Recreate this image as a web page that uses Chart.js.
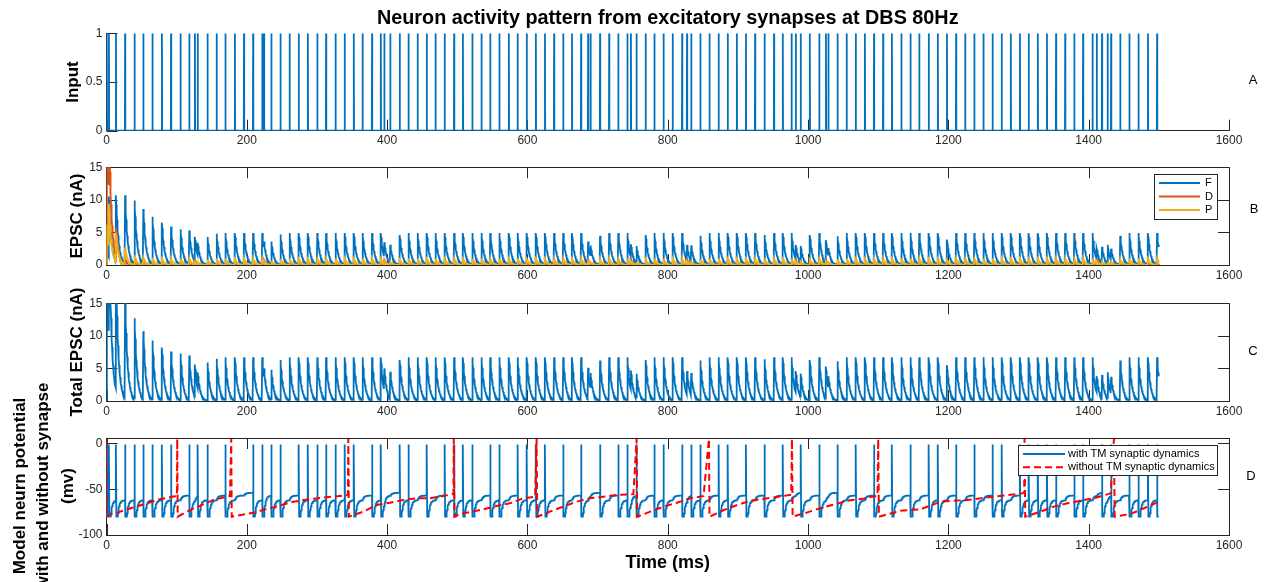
<!DOCTYPE html>
<html>
<head>
<meta charset="utf-8">
<title>Neuron activity pattern at DBS 80Hz</title>
<script src="https://cdn.jsdelivr.net/npm/chart.js@4.4.1/dist/chart.umd.min.js"></script>
<style>
  html, body { margin: 0; padding: 0; background: #fff; }
  #wrap { position: relative; width: 1268px; height: 582px; overflow: hidden; }
  canvas { position: absolute; left: 0; }
</style>
</head>
<body>
<div id="wrap">
  <canvas id="panelA" width="1268" height="150" style="top:0px"></canvas>
  <canvas id="panelB" width="1268" height="135" style="top:150px"></canvas>
  <canvas id="panelC" width="1268" height="135" style="top:285px"></canvas>
  <canvas id="panelD" width="1268" height="202" style="top:380px"></canvas>
</div>
<script>
// stimulus pulse times (ms)
const inputTimes = [
  0.5, 3.5, 13.5, 26.5, 40, 52.5, 65.5, 79, 92, 105.5,
  118, 126, 130, 144, 157, 169.5, 183, 196, 209, 222,
  224.5, 235, 248, 261, 274, 287, 300.5, 313, 326.5, 339.5,
  352.5, 365, 378.5, 391, 396, 404.5, 418, 430.5, 443.5, 456.5,
  469, 482, 495.5, 508, 521.5, 534.5, 547, 560, 573.5, 586,
  599, 612, 625, 638, 651, 663.5, 676.5, 686.5, 690, 703.5,
  716.5, 729.5, 742.5, 747.5, 755.5, 768.5, 781, 794, 807, 820.5,
  827.5, 833.5, 846.5, 859.5, 872.5, 885.5, 898.5, 911.5, 924.5, 938,
  951.5, 964, 976.5, 982.5, 989.5, 1002.5, 1016, 1025.5, 1029, 1042,
  1055, 1068, 1081, 1094, 1107, 1119.5, 1133, 1146, 1158.5, 1172,
  1185, 1198, 1211, 1224, 1237, 1250, 1263, 1276, 1289, 1302,
  1314.5, 1327.5, 1340.5, 1353.5, 1366.5, 1379.5, 1392, 1405.5, 1411.5, 1419,
  1427, 1432, 1445, 1458, 1471, 1484.5, 1497.5
];

// EPSC peak per pulse (nA): facilitating, depressing, pseudo-linear synapses
const fPeaks = [
  2.5, 10.5, 10.7, 10.7, 9.9, 8.6, 7.4, 6.5, 5.9, 5.5,
  5.3, 4.3, 3.4, 4.3, 4.8, 4.9, 4.9, 4.9, 4.9, 4.9,
  3.6, 3.6, 4.7, 4.9, 4.9, 4.9, 4.9, 4.9, 4.9, 4.9,
  4.9, 4.9, 4.9, 4.9, 3.5, 3.1, 4.6, 4.9, 4.9, 4.9,
  4.9, 4.9, 4.9, 4.9, 4.9, 4.9, 4.9, 4.9, 4.9, 4.9,
  4.9, 4.9, 4.9, 4.9, 4.9, 4.9, 4.9, 3.6, 3.0, 4.5,
  4.9, 4.9, 4.9, 3.2, 2.9, 4.6, 4.9, 4.9, 4.9, 4.9,
  3.1, 3.0, 4.5, 4.9, 4.9, 4.9, 4.9, 4.9, 4.9, 4.6,
  4.9, 4.9, 4.9, 3.1, 2.9, 4.6, 4.9, 3.8, 2.6, 4.4,
  4.9, 4.9, 4.9, 4.9, 4.9, 4.9, 4.9, 4.9, 4.9, 4.9,
  4.9, 3.9, 4.9, 4.9, 4.9, 4.9, 4.9, 4.9, 4.9, 4.9,
  4.9, 4.9, 4.9, 4.9, 4.9, 4.9, 4.9, 4.9, 2.6, 2.8,
  3.1, 2.5, 4.5, 4.9, 4.9, 4.9, 4.9
];
const dPeaks = [
  25, 22, 5.7, 1.0, 0.6, 0.5, 0.4, 0.35, 0.3, 0.3,
  0.3, 0.8, 0.2, 0.25, 0.25, 0.25, 0.25, 0.25, 0.25, 0.25,
  0.8, 0.2, 0.25, 0.25, 0.25, 0.25, 0.25, 0.25, 0.25, 0.25,
  0.25, 0.25, 0.25, 0.25, 0.8, 0.2, 0.25, 0.25, 0.25, 0.25,
  0.25, 0.25, 0.25, 0.25, 0.25, 0.25, 0.25, 0.25, 0.25, 0.25,
  0.25, 0.25, 0.25, 0.25, 0.25, 0.25, 0.25, 0.8, 0.2, 0.25,
  0.25, 0.25, 0.25, 0.8, 0.2, 0.25, 0.25, 0.25, 0.25, 0.25,
  0.8, 0.2, 0.25, 0.25, 0.25, 0.25, 0.25, 0.25, 0.25, 0.25,
  0.25, 0.25, 0.25, 0.8, 0.2, 0.25, 0.25, 0.8, 0.2, 0.25,
  0.25, 0.25, 0.25, 0.25, 0.25, 0.25, 0.25, 0.25, 0.25, 0.25,
  0.25, 0.6, 0.25, 0.25, 0.25, 0.25, 0.25, 0.25, 0.25, 0.25,
  0.25, 0.25, 0.25, 0.25, 0.25, 0.25, 0.25, 0.25, 0.8, 0.2,
  0.5, 0.2, 0.25, 0.25, 0.25, 0.25, 0.25
];
const pPeaks = [
  6.2, 9.4, 5.0, 2.7, 1.5, 1.2, 1.1, 1.0, 1.0, 1.0,
  1.0, 0.6, 0.5, 0.9, 1.0, 1.0, 1.0, 1.0, 1.0, 1.0,
  0.6, 0.6, 0.9, 1.0, 1.0, 1.0, 1.0, 1.0, 1.0, 1.0,
  1.0, 1.0, 1.0, 1.0, 0.6, 0.5, 0.9, 1.0, 1.0, 1.0,
  1.0, 1.0, 1.0, 1.0, 1.0, 1.0, 1.0, 1.0, 1.0, 1.0,
  1.0, 1.0, 1.0, 1.0, 1.0, 1.0, 1.0, 0.6, 0.5, 0.9,
  1.0, 1.0, 1.0, 0.6, 0.5, 0.9, 1.0, 1.0, 1.0, 1.0,
  0.6, 0.5, 0.9, 1.0, 1.0, 1.0, 1.0, 1.0, 1.0, 1.0,
  1.0, 1.0, 1.0, 0.6, 0.5, 0.9, 1.0, 0.6, 0.5, 0.9,
  1.0, 1.0, 1.0, 1.0, 1.0, 1.0, 1.0, 1.0, 1.0, 1.0,
  1.0, 0.8, 1.0, 1.0, 1.0, 1.0, 1.0, 1.0, 1.0, 1.0,
  1.0, 1.0, 1.0, 1.0, 1.0, 1.0, 1.0, 1.0, 0.6, 0.5,
  0.5, 0.5, 0.9, 1.0, 1.0, 1.0, 1.0
];
const totalPeaks = [
  22, 30, 20, 16, 12.7, 10.7, 9.3, 8.2, 7.6, 7.3,
  7.0, 5.6, 4.4, 5.9, 6.5, 6.7, 6.7, 6.7, 6.7, 6.7,
  5.0, 4.8, 6.3, 6.7, 6.7, 6.7, 6.7, 6.7, 6.7, 6.7,
  6.7, 6.7, 6.7, 6.7, 5.0, 4.5, 6.3, 6.7, 6.7, 6.7,
  6.7, 6.7, 6.7, 6.7, 6.7, 6.7, 6.7, 6.7, 6.7, 6.7,
  6.7, 6.7, 6.7, 6.7, 6.7, 6.7, 6.7, 5.1, 4.3, 6.2,
  6.7, 6.7, 6.7, 4.7, 4.2, 6.3, 6.7, 6.7, 6.7, 6.7,
  4.6, 4.3, 6.2, 6.7, 6.7, 6.7, 6.7, 6.7, 6.7, 6.4,
  6.7, 6.7, 6.7, 4.6, 4.2, 6.3, 6.7, 5.3, 3.8, 6.1,
  6.7, 6.7, 6.7, 6.7, 6.7, 6.7, 6.7, 6.7, 6.7, 6.7,
  6.7, 5.5, 6.7, 6.7, 6.7, 6.7, 6.7, 6.7, 6.7, 6.7,
  6.7, 6.7, 6.7, 6.7, 6.7, 6.7, 6.7, 6.7, 3.8, 4.0,
  4.4, 3.7, 6.2, 6.7, 6.7, 6.7, 6.7
];

// 1 where the pulse triggers an action potential in the model neuron
const neuronFires = [
  1, 1, 1, 1, 1, 1, 1, 1, 1, 0,
  1, 0, 1, 1, 0, 1, 0, 0, 1, 1,
  0, 1, 1, 0, 1, 1, 1, 1, 1, 1,
  1, 0, 1, 1, 0, 0, 1, 1, 0, 1,
  0, 1, 1, 1, 1, 0, 1, 1, 0, 1,
  1, 1, 1, 0, 1, 0, 1, 0, 0, 1,
  0, 1, 1, 0, 1, 0, 1, 1, 0, 1,
  0, 1, 1, 0, 1, 1, 0, 1, 0, 1,
  0, 1, 0, 0, 1, 0, 1, 0, 0, 1,
  0, 1, 0, 1, 0, 1, 0, 1, 0, 1,
  1, 0, 1, 0, 1, 0, 1, 1, 0, 1,
  1, 1, 1, 1, 0, 1, 1, 0, 0, 1,
  0, 1, 0, 1, 1, 1, 1
];
// membrane level after reset, after recovery and after further EPSPs (mV)
const epspLevels = [-80, -62, -57, -54];
const spikeTop = -1;

// membrane potential without TM dynamics: [t (ms), V (mV)]
const plainKnots = [
  [0, 5], [0.5, -80], [5, -78], [38, -70], [57, -65.5], [76, -61], [95, -58], [100.5, -57.5], [100.8, 5], [101.5, -80],
  [114, -74.5], [133, -68.3], [152, -61.7], [176, -57.4], [177.8, 5], [178.5, -80],
  [209, -75.6], [237.5, -69.8], [266, -63.6], [294.5, -60.3], [323, -58.1], [344, -56.3], [344.7, 5], [345.5, -80],
  [366, -74.5], [385, -67.2], [404, -64.7], [423, -61.7], [442, -59.9], [461, -59.9], [480, -57.4], [494.5, -55.2], [495, 5], [496, -80],
  [504, -77], [518, -75], [537, -72], [556, -68.3], [575, -65.4], [594, -59.9], [611, -58.1], [613, 5], [614, -80],
  [632, -74.5], [651, -69], [670, -63.6], [689, -59.9], [708, -58.1], [727.5, -56.3], [751, -55.2], [755.6, 5], [756.5, -80],
  [775, -74.5], [794, -69], [813, -64.7], [832, -59.9], [851, -57.4], [858.7, 5], [859.5, -80],
  [880, -72.7], [899, -67.2], [918, -62.5], [940, -60], [960, -58], [976, -56], [977, 5], [978, -80],
  [1000, -75], [1020, -70], [1040, -66], [1060, -62], [1080, -60], [1099, -57], [1100, 5], [1101, -80],
  [1120, -76], [1131.7, -73.4], [1160, -72], [1188.8, -63.6], [1226.8, -61.7], [1264.8, -58.1], [1298, -55.2], [1308, -54], [1308.6, 5], [1309.5, -80],
  [1331.4, -74.5], [1350.4, -69], [1369.5, -65.4], [1388.5, -62.5], [1407.5, -59.9], [1431.3, -54.5], [1436, 5], [1437, -80],
  [1459.8, -77], [1478.8, -70.8], [1500, -63.6]
];

const timeTicks = [0, 200, 400, 600, 800, 1000, 1200, 1400, 1600];
const inputTicks = [0, 0.5, 1];
const epscTicks = [0, 5, 10, 15];
const voltTicks = [-100, -50, 0];

const END = 1500;      // simulated duration (ms)
const DT = 0.5;        // sampling step for the decays (ms)
const TAU = 3.5;       // EPSC decay constant (ms)
const HOLD = 2.5;      // time spent at reset before recovering (ms)

const FONT = '"Liberation Sans", Arial, Helvetica, sans-serif';
const AXIS = '#262626';
const BLUE = '#0072BD', ORANGE = '#D95319', YELLOW = '#EDB120', RED = '#FF0000';
Chart.defaults.font.family = FONT;

function pulseTrain() {
  const pts = [{ x: 0, y: 0 }];
  inputTimes.forEach(t => {
    pts.push({ x: t - 0.3, y: 0 }, { x: t, y: 1 }, { x: t + 0.3, y: 0 });
  });
  pts.push({ x: END, y: 0 });
  return pts;
}

// each pulse jumps to its peak and decays until the next pulse
function currentTrace(peaks) {
  const pts = [{ x: 0, y: 0 }];
  let last = 0;
  inputTimes.forEach((t, i) => {
    const next = i + 1 < inputTimes.length ? inputTimes[i + 1] : END;
    for (let s = 0; t + s < next; s += DT) {
      last = peaks[i] * Math.exp(-s / TAU);
      pts.push({ x: t + s, y: last });
    }
  });
  pts.push({ x: END, y: last });
  return pts;
}

// rounded rise from `from` towards `to`, sampled between t0 and t1
function rise(pts, t0, t1, from, to) {
  let v = from;
  for (let s = 0; t0 + s < t1; s += DT) {
    v = to + (from - to) * Math.exp(-s / 2);
    pts.push({ x: t0 + s, y: v });
  }
  return v;
}

function membraneTrace() {
  const rest = epspLevels[0];
  const pts = [{ x: 0, y: rest }];
  let v = rest, level = 0;
  inputTimes.forEach((t, i) => {
    const next = i + 1 < inputTimes.length ? inputTimes[i + 1] : END;
    if (neuronFires[i]) {
      pts.push({ x: t, y: v }, { x: t, y: spikeTop }, { x: t + 0.6, y: rest });
      const start = Math.min(t + HOLD, next);
      pts.push({ x: start, y: rest });
      v = rise(pts, start, next, rest, epspLevels[1]);
      level = 1;
    } else {
      level = Math.min(level + 1, epspLevels.length - 1);
      v = rise(pts, t, next, v, epspLevels[level]);
    }
  });
  pts.push({ x: END, y: v });
  return pts;
}

// axes box and inward tick marks
const frame = {
  id: 'frame',
  beforeDatasetsDraw(chart, args, opts) {
    const { ctx, chartArea: a, scales: { x, y } } = chart;
    const L = 11;
    ctx.save();
    ctx.strokeStyle = AXIS;
    ctx.lineWidth = 1;
    ctx.beginPath();
    if (opts.box) {
      ctx.moveTo(a.left, Math.round(a.top) + 0.5); ctx.lineTo(a.right, Math.round(a.top) + 0.5);
      ctx.moveTo(Math.round(a.right) + 0.5, a.top); ctx.lineTo(Math.round(a.right) + 0.5, a.bottom);
    }
    x.ticks.forEach(t => {
      const px = Math.round(x.getPixelForValue(t.value)) + 0.5;
      ctx.moveTo(px, a.bottom); ctx.lineTo(px, a.bottom - L);
      if (opts.box) { ctx.moveTo(px, a.top); ctx.lineTo(px, a.top + L); }
    });
    y.ticks.forEach(t => {
      const py = Math.round(y.getPixelForValue(t.value)) + 0.5;
      ctx.moveTo(a.left, py); ctx.lineTo(a.left + L, py);
      if (opts.box) { ctx.moveTo(a.right, py); ctx.lineTo(a.right - L, py); }
    });
    ctx.stroke();
    ctx.restore();
  }
};

// axis labels and panel letters
const notes = {
  id: 'notes',
  afterDraw(chart, args, opts) {
    const ctx = chart.ctx;
    (opts.items || []).forEach(it => {
      ctx.save();
      ctx.font = it.font;
      ctx.fillStyle = '#000';
      ctx.textAlign = 'center';
      ctx.textBaseline = 'middle';
      ctx.translate(it.x, it.y);
      if (it.rot) ctx.rotate(-Math.PI / 2);
      ctx.fillText(it.text, 0, 0);
      ctx.restore();
    });
  }
};

const boxLegend = {
  id: 'boxLegend',
  afterDatasetsDraw(chart, args, o) {
    if (!o.rows) return;
    const ctx = chart.ctx;
    ctx.save();
    ctx.fillStyle = '#fff';
    ctx.fillRect(o.x, o.y, o.w, o.h);
    ctx.strokeStyle = AXIS;
    ctx.lineWidth = 1;
    ctx.strokeRect(o.x + 0.5, o.y + 0.5, o.w, o.h);
    ctx.font = '11px ' + FONT;
    ctx.textBaseline = 'middle';
    o.rows.forEach((di, k) => {
      const ds = chart.data.datasets[di];
      const y = o.y + o.first + k * o.step;
      ctx.strokeStyle = ds.borderColor;
      ctx.lineWidth = ds.borderWidth;
      ctx.setLineDash(ds.borderDash || []);
      ctx.beginPath();
      ctx.moveTo(o.lineX[0], y);
      ctx.lineTo(o.lineX[1], y);
      ctx.stroke();
      ctx.setLineDash([]);
      ctx.fillStyle = '#000';
      ctx.fillText(ds.label, o.textX, y);
    });
    ctx.restore();
  }
};

function panelChart(id, cfg) {
  return new Chart(document.getElementById(id), {
    type: 'line',
    data: { datasets: cfg.datasets },
    options: {
      responsive: false,
      animation: false,
      events: [],
      parsing: false,
      normalized: true,
      layout: { padding: { top: cfg.top, right: 39, bottom: 0, left: 0 } },
      elements: { point: { radius: 0 }, line: { tension: 0 } },
      scales: {
        x: {
          type: 'linear', min: 0, max: 1600,
          afterBuildTicks: s => { s.ticks = timeTicks.map(v => ({ value: v })); },
          afterFit: s => { s.height = cfg.xHeight; },
          grid: { display: false, drawTicks: false },
          border: { color: AXIS, width: 1 },
          ticks: { color: AXIS, font: { size: 12 }, padding: 3, maxRotation: 0, autoSkip: false, callback: v => String(v) },
          title: cfg.xTitle || { display: false }
        },
        y: {
          type: 'linear', min: cfg.yMin, max: cfg.yMax,
          afterBuildTicks: s => { s.ticks = cfg.yTicks.map(v => ({ value: v })); },
          afterFit: s => { s.width = 106.5; },
          grid: { display: false, drawTicks: false },
          border: { color: AXIS, width: 1 },
          ticks: { color: AXIS, font: { size: 12 }, padding: 4, callback: v => String(v) }
        }
      },
      plugins: {
        legend: { display: false },
        tooltip: { enabled: false },
        title: cfg.title || { display: false },
        frame: { box: cfg.box },
        notes: { items: cfg.notes },
        boxLegend: cfg.legend || {}
      }
    },
    plugins: [frame, notes, boxLegend]
  });
}

const LABEL = 'bold 17px ' + FONT;
const LETTER = '13px ' + FONT;

panelChart('panelA', {
  top: 0, xHeight: 19.3, yMin: 0, yMax: 1, yTicks: inputTicks, box: false,
  title: {
    display: true, text: 'Neuron activity pattern from excitatory synapses at DBS 80Hz',
    font: { size: 19.8, weight: 'bold' }, color: '#000', fullSize: false,
    padding: { top: 7, bottom: 2.5 }
  },
  datasets: [{ label: 'Input', data: pulseTrain(), borderColor: BLUE, borderWidth: 1.8 }],
  notes: [
    { text: 'Input', x: 73, y: 82, rot: true, font: LABEL },
    { text: 'A', x: 1253, y: 80, font: LETTER }
  ]
});

panelChart('panelB', {
  top: 17.3, xHeight: 20, yMin: 0, yMax: 15, yTicks: epscTicks, box: true,
  datasets: [
    { label: 'F', data: currentTrace(fPeaks), borderColor: BLUE, borderWidth: 1.8, order: 3 },
    { label: 'D', data: currentTrace(dPeaks), borderColor: ORANGE, borderWidth: 1.8, order: 2 },
    { label: 'P', data: currentTrace(pPeaks), borderColor: YELLOW, borderWidth: 1.8, order: 1 }
  ],
  legend: { rows: [0, 1, 2], x: 1154, y: 24, w: 63, h: 45, first: 9, step: 13.5, lineX: [1159, 1200], textX: 1205 },
  notes: [
    { text: 'EPSC (nA)', x: 77, y: 66, rot: true, font: LABEL },
    { text: 'B', x: 1254, y: 59, font: LETTER }
  ]
});

panelChart('panelC', {
  top: 18.3, xHeight: 19, yMin: 0, yMax: 15, yTicks: epscTicks, box: true,
  datasets: [{ label: 'Total EPSC', data: currentTrace(totalPeaks), borderColor: BLUE, borderWidth: 1.8 }],
  notes: [
    { text: 'Total EPSC (nA)', x: 77, y: 67, rot: true, font: LABEL },
    { text: 'C', x: 1253, y: 66, font: LETTER }
  ]
});

panelChart('panelD', {
  top: 58, xHeight: 47, yMin: -100, yMax: 6, yTicks: voltTicks, box: true,
  xTitle: {
    display: true, text: 'Time (ms)', color: '#000',
    font: { size: 18, weight: 'bold' }, padding: { top: 0, bottom: 8 }
  },
  datasets: [
    { label: 'with TM synaptic dynamics', data: membraneTrace(), borderColor: BLUE, borderWidth: 1.8, order: 2 },
    {
      label: 'without TM synaptic dynamics', data: plainKnots.map(k => ({ x: k[0], y: k[1] })),
      borderColor: RED, borderWidth: 2, borderDash: [7, 4], order: 1
    }
  ],
  legend: { rows: [0, 1], x: 1018, y: 65, w: 199, h: 30, first: 9, step: 13.3, lineX: [1023, 1065], textX: 1068 },
  notes: [
    { text: 'Model neurn potential', x: 20, y: 106, rot: true, font: LABEL },
    { text: 'with and without synapse', x: 43.5, y: 106, rot: true, font: LABEL },
    { text: '(mv)', x: 68, y: 106, rot: true, font: LABEL },
    { text: 'D', x: 1251, y: 96, font: LETTER }
  ]
});
</script>
</body>
</html>
